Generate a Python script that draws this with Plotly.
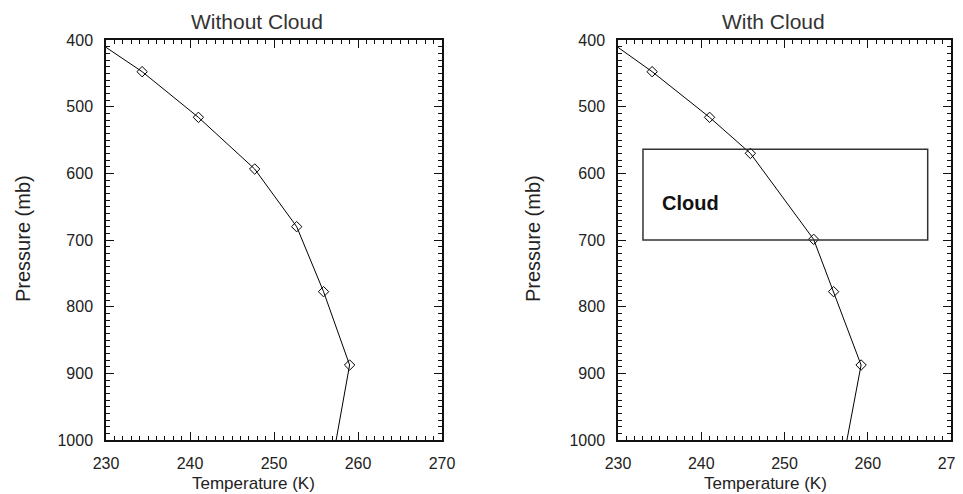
import plotly.graph_objects as go
from plotly.subplots import make_subplots

# ---- data ----
temp_no_cloud = [234.3, 241.0, 247.7, 252.7, 255.9, 259.0]
pres_no_cloud = [447.5, 516, 593.5, 680, 777.5, 887.5]
temp_cloud = [234.1, 241.0, 245.9, 253.5, 255.9, 259.2]
pres_cloud = [447.5, 516, 570, 699, 777.5, 887.5]
# line end points (no markers)
top_temp = [230.0, 230.0]
top_pres = [411, 411]
bottom_temp = [257.4, 257.5]
bottom_pres = [1000, 1000]

cloud_temp_bounds = [233.0, 267.2]
cloud_pres_bounds = [564, 700]
cloud_label_pos = [235.0, 644]

x_ticks = [230, 240, 250, 260, 270]
y_ticks = [400, 500, 600, 700, 800, 900, 1000]
titles = ["Without Cloud", "With Cloud"]

PAGE_W, PAGE_H = 963, 494
OFF = 8  # default page body margin
W, H = PAGE_W - OFF, PAGE_H - OFF
FONT = "Liberation Sans, Arial, sans-serif"
TXT = "#222222"

fig = make_subplots(rows=1, cols=2)

sets = [(temp_no_cloud, pres_no_cloud), (temp_cloud, pres_cloud)]
for i, (t, p) in enumerate(sets):
    col = i + 1
    lt = [top_temp[i]] + t + [bottom_temp[i]]
    lp = [top_pres[i]] + p + [bottom_pres[i]]
    fig.add_trace(go.Scatter(x=lt, y=lp, mode="lines",
                             line=dict(color="black", width=1),
                             showlegend=False, hoverinfo="skip"), row=1, col=col)
    fig.add_trace(go.Scatter(x=t, y=p, mode="markers",
                             marker=dict(symbol="diamond-open", size=8,
                                         color="black", line=dict(width=1)),
                             showlegend=False), row=1, col=col)

# page-pixel helpers -> paper fractions
def fx(px):
    return (px - OFF) / W

def fy(py):
    return 1 - (py - OFF) / H

x_domains = [[fx(106), fx(442)], [fx(618), fx(951)]]
y_dom = [fy(440), fy(40)]

axis_common = dict(
    showline=True, linecolor="#111111", linewidth=1.5, mirror="allticks",
    ticks="inside", ticklen=8, tickwidth=1, tickcolor="#111111",
    showgrid=False, zeroline=False, automargin=False,
    tickfont=dict(family=FONT, size=16, color=TXT),
    ticklabelstandoff=8, tickmode="linear", ticklabeloverflow="allow",
)

for i in range(2):
    xa = "xaxis" if i == 0 else "xaxis2"
    ya = "yaxis" if i == 0 else "yaxis2"
    fig.layout[xa].update(domain=x_domains[i], range=[x_ticks[0], x_ticks[-1]],
                          autorange=False,
                          tick0=x_ticks[0], dtick=x_ticks[1] - x_ticks[0],
                          minor=dict(dtick=1, tick0=x_ticks[0], ticks="inside", ticklen=4,
                                     tickwidth=1, tickcolor="#111111"),
                          **axis_common)
    fig.layout[ya].update(domain=y_dom, range=[y_ticks[-1], y_ticks[0]], autorange=False,
                          tick0=y_ticks[0], dtick=y_ticks[1] - y_ticks[0],
                          minor=dict(dtick=10, tick0=y_ticks[0], ticks="inside", ticklen=4,
                                     tickwidth=1, tickcolor="#111111"),
                          **axis_common)

annotations = [
    dict(text=titles[0], x=fx(257), y=fy(22)),
    dict(text=titles[1], x=fx(773), y=fy(22)),
]
for a in annotations:
    a.update(xref="paper", yref="paper", showarrow=False, xanchor="center",
             yanchor="middle", font=dict(family=FONT, size=21, color="#333333"))

for xc in [253, 765]:
    annotations.append(dict(text="Temperature (K)", x=fx(xc), y=fy(483),
                            xref="paper", yref="paper", showarrow=False,
                            xanchor="center", yanchor="middle",
                            font=dict(family=FONT, size=17, color=TXT)))
for xc in [23, 533]:
    annotations.append(dict(text="Pressure (mb)", x=fx(xc), y=fy(239),
                            xref="paper", yref="paper", showarrow=False, textangle=-90,
                            xanchor="center", yanchor="middle",
                            font=dict(family=FONT, size=20, color=TXT)))

annotations.append(dict(text="<b>Cloud</b>", x=cloud_label_pos[0], y=cloud_label_pos[1],
                        xref="x2", yref="y2", showarrow=False, xanchor="left",
                        yanchor="middle", font=dict(family=FONT, size=20, color="#111111")))

fig.add_shape(type="rect", xref="x2", yref="y2",
              x0=cloud_temp_bounds[0], x1=cloud_temp_bounds[1],
              y0=cloud_pres_bounds[0], y1=cloud_pres_bounds[1],
              line=dict(color="#333333", width=1.5), fillcolor="rgba(0,0,0,0)")

fig.update_layout(template="none", width=W, height=H, margin=dict(l=0, r=0, t=0, b=0),
                  paper_bgcolor="white", plot_bgcolor="white",
                  annotations=annotations, showlegend=False)

fig.write_html("out.html")
